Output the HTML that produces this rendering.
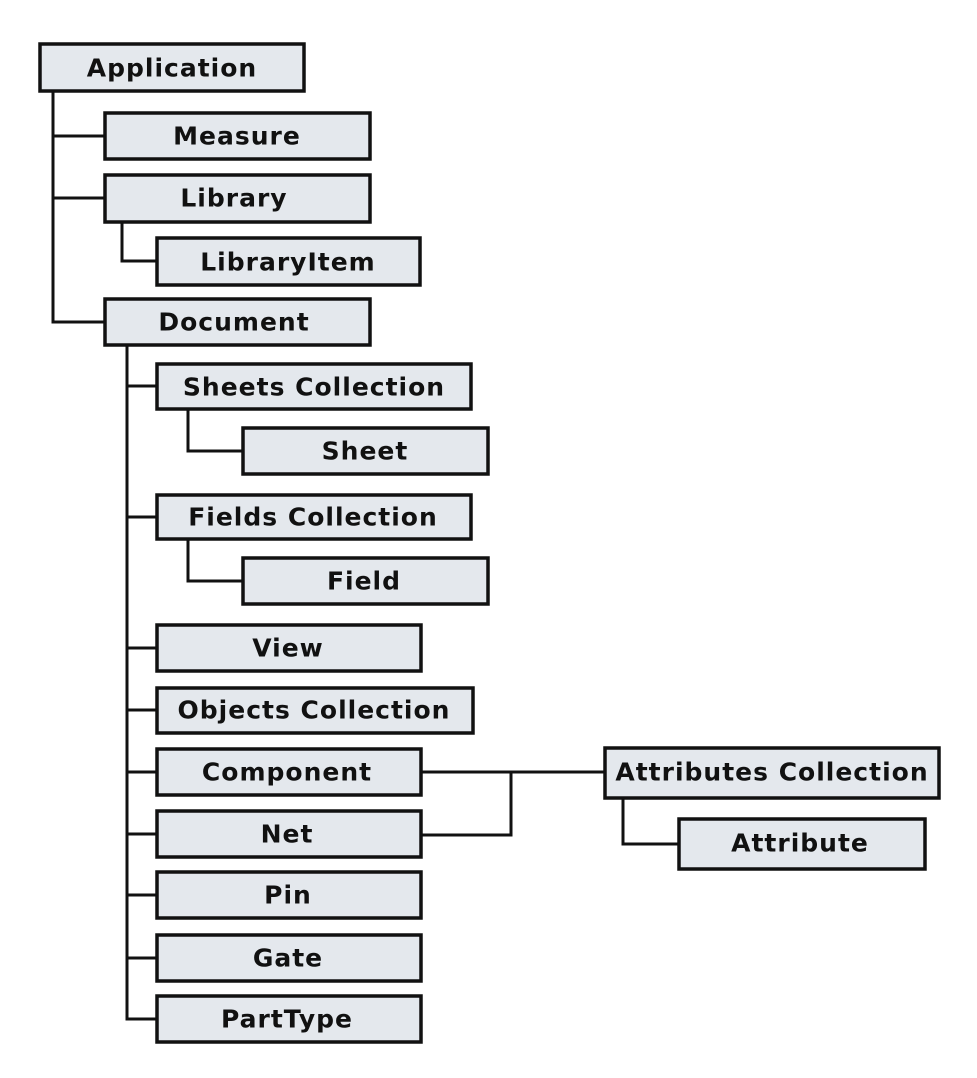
<!DOCTYPE html>
<html><head><meta charset="utf-8"><style>
html,body{margin:0;padding:0;background:#fff;}
svg{display:block;}
text{font-family:"DejaVu Sans","Liberation Sans",sans-serif;font-weight:bold;font-size:25px;letter-spacing:1px;fill:#111;text-anchor:middle;dominant-baseline:central;}
rect{fill:#e4e8ed;stroke:#111;stroke-width:3.5;}
line,polyline{stroke:#111;stroke-width:3;fill:none;}
</style></head><body>
<svg width="977" height="1078" viewBox="0 0 977 1078" xmlns="http://www.w3.org/2000/svg">
<rect x="0" y="0" width="977" height="1078" style="fill:#fff;stroke:none"/>
<polyline points="53,91 53,322 105,322"/>
<line x1="53" y1="136" x2="105" y2="136"/>
<line x1="53" y1="198" x2="105" y2="198"/>
<polyline points="122,222 122,261 157,261"/>
<polyline points="127,344 127,1019 157,1019"/>
<line x1="127" y1="386" x2="157" y2="386"/>
<line x1="127" y1="517" x2="157" y2="517"/>
<line x1="127" y1="648" x2="157" y2="648"/>
<line x1="127" y1="710" x2="157" y2="710"/>
<line x1="127" y1="772" x2="157" y2="772"/>
<line x1="127" y1="834" x2="157" y2="834"/>
<line x1="127" y1="895" x2="157" y2="895"/>
<line x1="127" y1="958" x2="157" y2="958"/>
<polyline points="188,409 188,451 243,451"/>
<polyline points="188,539 188,581 243,581"/>
<line x1="421" y1="772" x2="605" y2="772"/>
<polyline points="421,835 511,835 511,772"/>
<polyline points="623,799 623,844 679,844"/>
<rect x="40" y="44" width="264" height="47"/><text x="172" y="68">Application</text>
<rect x="105" y="113" width="265" height="46"/><text x="237" y="136">Measure</text>
<rect x="105" y="175" width="265" height="47"/><text x="234" y="198">Library</text>
<rect x="157" y="238" width="263" height="47"/><text x="288" y="262">LibraryItem</text>
<rect x="105" y="299" width="265" height="46"/><text x="234" y="322">Document</text>
<rect x="157" y="364" width="314" height="45"/><text x="314" y="387">Sheets Collection</text>
<rect x="243" y="428" width="245" height="46"/><text x="365" y="451">Sheet</text>
<rect x="157" y="495" width="314" height="44"/><text x="313" y="517">Fields Collection</text>
<rect x="243" y="558" width="245" height="46"/><text x="364" y="581">Field</text>
<rect x="157" y="625" width="264" height="46"/><text x="288" y="648">View</text>
<rect x="157" y="688" width="316" height="45"/><text x="314" y="710">Objects Collection</text>
<rect x="157" y="749" width="264" height="46"/><text x="287" y="772">Component</text>
<rect x="157" y="811" width="264" height="46"/><text x="287" y="834">Net</text>
<rect x="157" y="872" width="264" height="46"/><text x="288" y="895">Pin</text>
<rect x="157" y="935" width="264" height="46"/><text x="288" y="958">Gate</text>
<rect x="157" y="996" width="264" height="46"/><text x="287" y="1019">PartType</text>
<rect x="605" y="748" width="334" height="50"/><text x="772" y="772">Attributes Collection</text>
<rect x="679" y="819" width="246" height="50"/><text x="800" y="843">Attribute</text>
</svg>
</body></html>
